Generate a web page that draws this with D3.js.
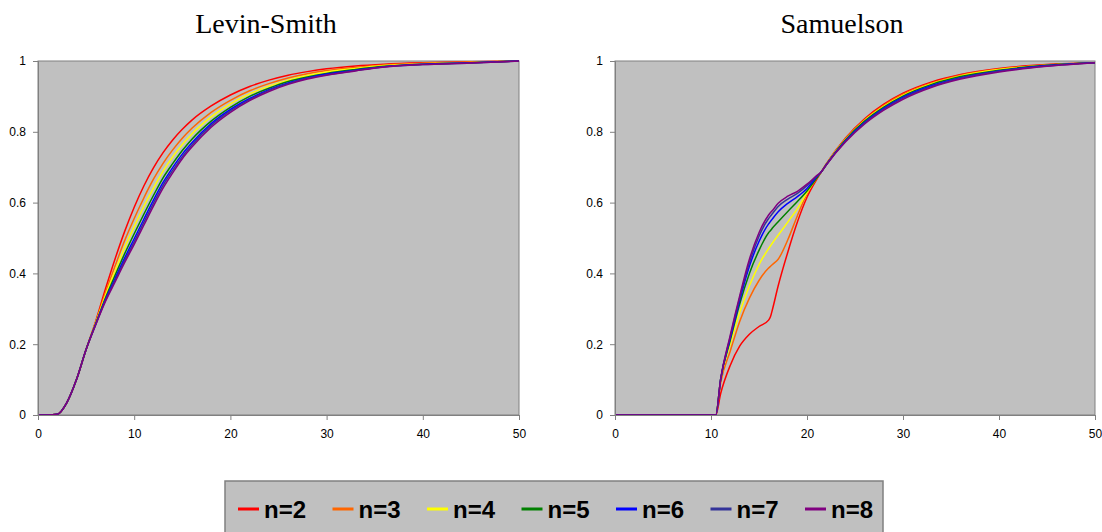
<!DOCTYPE html>
<html>
<head>
<meta charset="utf-8">
<script src="https://cdn.jsdelivr.net/npm/d3@7"></script>
<style>
  body { margin: 0; background: #fff; }
  svg { display: block; }
</style>
</head>
<body>
<svg id="chart"></svg>
<script>
// legend labels and line colours
var labels = ["n=2", "n=3", "n=4", "n=5", "n=6", "n=7", "n=8"];
var colors = ["#ff0000", "#ff6600", "#ffff00", "#008000", "#0000ff", "#333399", "#800080"];
var yTicks = [0, 0.2, 0.4, 0.6, 0.8, 1];
var xTicks = [0, 10, 20, 30, 40, 50];

// Levin-Smith panel
var levinX = [0,1,2,3,4,5,6,7,8,9,10,11,12,13,14,15,16,18,20,22,24,26,28,30,33,36,40,45,50];
var levin2 = [0,0,0.002,0.035,0.1,0.185,0.265,0.355,0.44,0.518,0.587,0.647,0.698,0.741,0.777,0.807,0.833,0.873,0.904,0.928,0.946,0.96,0.97,0.978,0.986,0.991,0.995,0.998,1];
var levin3 = [0,0,0.002,0.035,0.1,0.185,0.262,0.345,0.42,0.492,0.555,0.613,0.666,0.711,0.749,0.782,0.81,0.855,0.889,0.916,0.936,0.952,0.964,0.973,0.982,0.989,0.994,0.997,1];
var levin4 = [0,0,0.002,0.035,0.1,0.185,0.26,0.337,0.406,0.472,0.532,0.589,0.641,0.689,0.729,0.764,0.794,0.842,0.879,0.907,0.929,0.946,0.959,0.969,0.979,0.987,0.992,0.996,1];
var levin5 = [0,0,0.002,0.035,0.1,0.185,0.258,0.33,0.394,0.455,0.512,0.567,0.62,0.67,0.71,0.747,0.779,0.83,0.869,0.9,0.923,0.942,0.955,0.965,0.976,0.985,0.991,0.995,1];
var levin6 = [0,0,0.002,0.035,0.1,0.185,0.257,0.326,0.385,0.443,0.498,0.553,0.607,0.657,0.699,0.737,0.769,0.823,0.863,0.894,0.919,0.938,0.952,0.963,0.974,0.984,0.991,0.995,1];
var levin7 = [0,0,0.002,0.035,0.1,0.185,0.256,0.323,0.38,0.436,0.489,0.544,0.598,0.649,0.691,0.73,0.763,0.818,0.859,0.891,0.917,0.936,0.951,0.961,0.973,0.984,0.99,0.994,1];
var levin8 = [0,0,0.002,0.035,0.1,0.185,0.255,0.32,0.375,0.43,0.482,0.536,0.59,0.641,0.684,0.724,0.757,0.813,0.855,0.888,0.914,0.934,0.949,0.96,0.972,0.983,0.99,0.994,1];

// Samuelson panel
var samX = [0,10.5,11,12,13,14,15,16,16.2,16.4,17,18,19,20,21,21.5,22,24,26,28,30,33,36,40,45,50];
var sam2 = [0,0,0.06,0.14,0.195,0.228,0.25,0.268,0.278,0.298,0.365,0.46,0.545,0.615,0.665,0.687,0.709,0.782,0.837,0.878,0.909,0.941,0.962,0.979,0.99,0.995];
var sam3 = [0,0,0.09,0.18,0.265,0.33,0.38,0.415,0.42,0.425,0.44,0.495,0.563,0.625,0.668,0.687,0.708,0.78,0.834,0.875,0.906,0.938,0.96,0.977,0.989,0.995];
var sam4 = [0,0,0.1,0.2,0.29,0.365,0.425,0.47,0.478,0.486,0.508,0.545,0.583,0.628,0.67,0.687,0.708,0.778,0.832,0.872,0.903,0.936,0.958,0.976,0.988,0.995];
var sam5 = [0,0,0.1,0.21,0.315,0.4,0.465,0.515,0.521,0.528,0.546,0.575,0.603,0.633,0.669,0.687,0.707,0.777,0.83,0.87,0.901,0.934,0.956,0.974,0.988,0.995];
var sam6 = [0,0,0.1,0.215,0.325,0.42,0.49,0.54,0.547,0.554,0.574,0.598,0.617,0.64,0.672,0.687,0.707,0.775,0.827,0.867,0.898,0.931,0.953,0.972,0.987,0.995];
var sam7 = [0,0,0.1,0.22,0.332,0.43,0.505,0.555,0.562,0.569,0.589,0.61,0.626,0.648,0.674,0.687,0.706,0.773,0.825,0.864,0.895,0.928,0.951,0.971,0.986,0.995];
var sam8 = [0,0,0.1,0.225,0.338,0.44,0.515,0.565,0.572,0.578,0.598,0.618,0.632,0.652,0.676,0.687,0.706,0.771,0.822,0.861,0.892,0.926,0.949,0.969,0.985,0.995];

var W = 1102, H = 532;
var svg = d3.select("#chart").attr("width", W).attr("height", H);
svg.append("rect").attr("width", W).attr("height", H).attr("fill", "#fff");

var panels = [
  {title: "Levin-Smith", titleX: 266, left: 38, right: 519, xs: levinX,
   series: [levin2, levin3, levin4, levin5, levin6, levin7, levin8]},
  {title: "Samuelson", titleX: 842, left: 615, right: 1095, xs: samX,
   series: [sam2, sam3, sam4, sam5, sam6, sam7, sam8]}
];

var plotTop = 61, plotBottom = 415;

panels.forEach(function(p) {
  var xScale = d3.scaleLinear().domain([0, 50]).range([p.left, p.right]);
  var yScale = d3.scaleLinear().domain([0, 1]).range([plotBottom, plotTop]);

  svg.append("text")
    .attr("x", p.titleX)
    .attr("y", 33)
    .attr("text-anchor", "middle")
    .style("font-family", "'Liberation Serif', 'DejaVu Serif', serif")
    .style("font-size", "28px")
    .attr("fill", "#000")
    .text(p.title);

  svg.append("rect")
    .attr("x", p.left).attr("y", plotTop)
    .attr("width", p.right - p.left).attr("height", plotBottom - plotTop)
    .attr("fill", "#c0c0c0")
    .attr("stroke", "#808080").attr("stroke-width", 1);

  var line = d3.line()
    .x(function(d, i) { return xScale(p.xs[i]); })
    .y(function(d) { return yScale(d); })
    .curve(d3.curveMonotoneX);

  svg.append("g")
    .selectAll("path")
    .data(p.series)
    .enter()
    .append("path")
    .attr("d", line)
    .attr("fill", "none")
    .attr("stroke", function(d, i) { return colors[i]; })
    .attr("stroke-width", 1.5);

  var yAxis = d3.axisLeft(yScale).tickValues(yTicks).tickSize(5).tickPadding(7)
    .tickFormat(function(d) { return String(d); });
  var xAxis = d3.axisBottom(xScale).tickValues(xTicks).tickSize(5).tickPadding(9)
    .tickFormat(function(d) { return String(d); });

  var ya = svg.append("g")
    .attr("transform", "translate(" + p.left + ",0)")
    .call(yAxis);
  var xa = svg.append("g")
    .attr("transform", "translate(0," + plotBottom + ")")
    .call(xAxis);

  [ya, xa].forEach(function(a) {
    a.select(".domain").attr("stroke", "#808080");
    a.selectAll(".tick line").attr("stroke", "#808080");
    a.selectAll(".tick text")
      .attr("fill", "#000")
      .style("font-family", "'Liberation Sans', Arial, sans-serif")
      .style("font-size", "12px");
  });
});

// legend
var legend = svg.append("g");
legend.append("rect")
  .attr("x", 225).attr("y", 481)
  .attr("width", 658).attr("height", 60)
  .attr("fill", "#c0c0c0")
  .attr("stroke", "#808080").attr("stroke-width", 1.5);

var items = legend.selectAll("g.item")
  .data(labels)
  .enter()
  .append("g")
  .attr("class", "item")
  .attr("transform", function(d, i) { return "translate(" + (238 + i * 94.5) + ",0)"; });

items.append("line")
  .attr("x1", 0).attr("x2", 21)
  .attr("y1", 509).attr("y2", 509)
  .attr("stroke", function(d, i) { return colors[i]; })
  .attr("stroke-width", 3);

items.append("text")
  .attr("x", 26)
  .attr("y", 518)
  .style("font-family", "'Liberation Sans', Arial, sans-serif")
  .style("font-size", "24px")
  .style("font-weight", "bold")
  .attr("fill", "#000")
  .text(function(d) { return d; });
</script>
</body>
</html>
